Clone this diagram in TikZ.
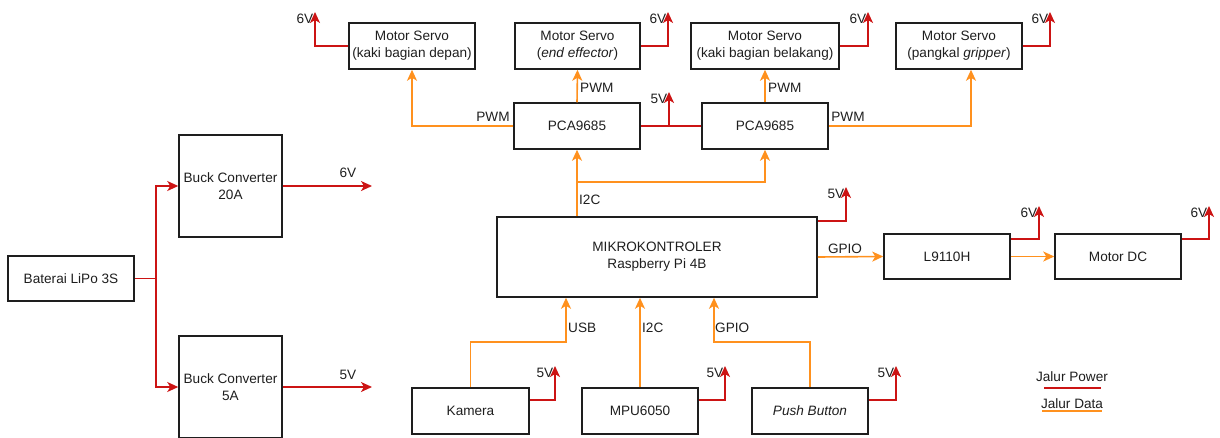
\documentclass[tikz,border=0pt]{standalone}
\usepackage{fontspec}
\setmainfont{Liberation Sans}
\usetikzlibrary{arrows.meta,calc}
\definecolor{pwr}{RGB}{204,20,20}
\definecolor{dat}{RGB}{255,145,30}
\definecolor{ink}{RGB}{30,30,30}
\tikzset{
  box/.style={draw=ink, line width=1.5pt, inner sep=0pt, align=center, text=ink, font=\fontsize{13.6}{17}\selectfont},
  pw/.style={draw=pwr, line width=1.6pt},
  dt/.style={draw=dat, line width=1.6pt},
  tipr/.style={-{Stealth[length=11pt,width=10pt,inset=3pt]}},
  lbl/.style={inner sep=1pt, text=ink, font=\fontsize{13.6}{17}\selectfont},
}
\begin{document}
\begin{tikzpicture}[x=1pt,y=-1pt]
\useasboundingbox (0,0) rectangle (1220,437);
% boxes
\node[box, minimum width=126pt, minimum height=45pt] (bat) at (71,278.5) {Baterai LiPo 3S};
\node[box, minimum width=103pt, minimum height=102pt] (b20) at (230.5,186) {Buck Converter\\20A};
\node[box, minimum width=103pt, minimum height=102pt] (b5) at (230.5,387) {Buck Converter\\5A};
\node[box, minimum width=126pt, minimum height=46pt] (s1) at (412,46) {Motor Servo\\(kaki bagian depan)};
\node[box, minimum width=125pt, minimum height=46pt] (s2) at (577.5,46) {Motor Servo\\(\textit{end effector})};
\node[box, minimum width=148pt, minimum height=46pt] (s3) at (765,46) {Motor Servo\\(kaki bagian belakang)};
\node[box, minimum width=126pt, minimum height=46pt] (s4) at (959,46) {Motor Servo\\(pangkal \textit{gripper})};
\node[box, minimum width=126pt, minimum height=46pt] (pca1) at (577,126) {PCA9685};
\node[box, minimum width=126pt, minimum height=46pt] (pca2) at (765,126) {PCA9685};
\node[box, minimum width=320pt, minimum height=80pt] (mcu) at (657,257) {MIKROKONTROLER\\Raspberry Pi 4B};
\node[box, minimum width=126pt, minimum height=45pt] (drv) at (947,256.5) {L9110H};
\node[box, minimum width=126pt, minimum height=45pt] (mdc) at (1118,256.5) {Motor DC};
\node[box, minimum width=117pt, minimum height=46pt] (kam) at (470.5,411) {Kamera};
\node[box, minimum width=116pt, minimum height=46pt] (mpu) at (640,411) {MPU6050};
\node[box, minimum width=116pt, minimum height=46pt] (btn) at (810,411) {\textit{Push Button}};

% battery branches
\coordinate (bj) at (156,278.5);
\draw[pw] (bat.east) -- (bj);
\draw[pw,tipr] (bj) |- (b20.west);
\draw[pw,tipr] (bj) |- (b5.west);
\coordinate (o6) at (372,186);
\coordinate (o5) at (372,387);
\draw[pw,tipr] (b20.east) -- (o6);
\draw[pw,tipr] (b5.east) -- (o5);
\node[lbl] (l6) at (348,173) {6V};
\node[lbl] (l5) at (348,375) {5V};

% servo power
\coordinate (p1) at (315,12);
\coordinate (p2) at (668,12);
\coordinate (p3) at (868,12);
\coordinate (p4) at (1050,12);
\draw[pw,tipr] (s1.west) -| (p1) node[lbl, anchor=north east] {6V};
\draw[pw,tipr] (s2.east) -| (p2) node[lbl, anchor=north east] {6V};
\draw[pw,tipr] (s3.east) -| (p3) node[lbl, anchor=north east] {6V};
\draw[pw,tipr] (s4.east) -| (p4) node[lbl, anchor=north east] {6V};

% PCA power
\coordinate (pj) at (669,125);
\coordinate (pp) at (669,92);
\draw[pw] (pca1.east) -- (pca2.west);
\draw[pw,tipr] (pj) -- (pp) node[lbl, anchor=north east] {5V};

% PWM
\draw[dt,tipr] (pca1.west) -| (s1.south);
\node[lbl] (pw1) at (493,117) {PWM};
\draw[dt,tipr] (pca1.north) -- (s2.south |- pca1.north |- s2.south);
\node[lbl, anchor=west] (pw2) at (579,88) {PWM};
\draw[dt,tipr] (pca2.north) -- (s3.south);
\node[lbl, anchor=west] (pw3) at (767,88) {PWM};
\coordinate (s4in) at ($(s4.south)+(12,0)$);
\draw[dt,tipr] (pca2.east) -| (s4in);
\node[lbl] (pw4) at (848,117) {PWM};

% I2C to PCAs
\coordinate (ij) at (577,182);
\draw[dt,tipr] (pca1.south |- mcu.north) -- (pca1.south);
\draw[dt,tipr] (ij) -| (pca2.south);
\node[lbl, anchor=west] (i2c1) at (578,200) {I2C};

% MCU power
\coordinate (mp) at (846,187);
\draw[pw,tipr] ($(mcu.north east)+(0,5)$) -| (mp) node[lbl, anchor=north east] {5V};

% GPIO to driver
\draw[dt,tipr] (mcu.east) -- (drv.west);
\node[lbl] (g1) at (845,249) {GPIO};
\draw[dt,tipr] (drv.east) -- (mdc.west);

% driver / motor power
\coordinate (dp) at (1039,206);
\coordinate (mdp) at (1209,206);
\draw[pw,tipr] ($(drv.north east)+(0,6)$) -| (dp) node[lbl, anchor=north east] {6V};
\draw[pw,tipr] ($(mdc.north east)+(0,6)$) -| (mdp) node[lbl, anchor=north east] {6V};

% sensors
\coordinate (kj) at (566,342);
\coordinate (bj2) at (714,342);
\draw[dt,tipr] (kam.north) |- (kj) -- (kj |- mcu.south);
\node[lbl, anchor=west] (usb) at (567,328) {USB};
\draw[dt,tipr] (mpu.north) -- (mpu.north |- mcu.south);
\node[lbl, anchor=west] (i2c2) at (641,328) {I2C};
\draw[dt,tipr] (btn.north) |- (bj2) -- (bj2 |- mcu.south);
\node[lbl, anchor=west] (gp2) at (714,328) {GPIO};

\coordinate (kp) at (555,366);
\coordinate (mpp) at (725,366);
\coordinate (bp) at (896,366);
\draw[pw,tipr] ($(kam.east)+(0,-11)$) -| (kp) node[lbl, anchor=north east] {5V};
\draw[pw,tipr] ($(mpu.east)+(0,-11)$) -| (mpp) node[lbl, anchor=north east] {5V};
\draw[pw,tipr] ($(btn.east)+(0,-11)$) -| (bp) node[lbl, anchor=north east] {5V};

% legend
\node[lbl] (lgp) at (1072,377) {Jalur Power};
\node[lbl] (lgd) at (1072,404) {Jalur Data};
\draw[pw] (1044,388) -- (1101,388);
\draw[dt] (1042,411) -- (1102,411);
\end{tikzpicture}
\end{document}
